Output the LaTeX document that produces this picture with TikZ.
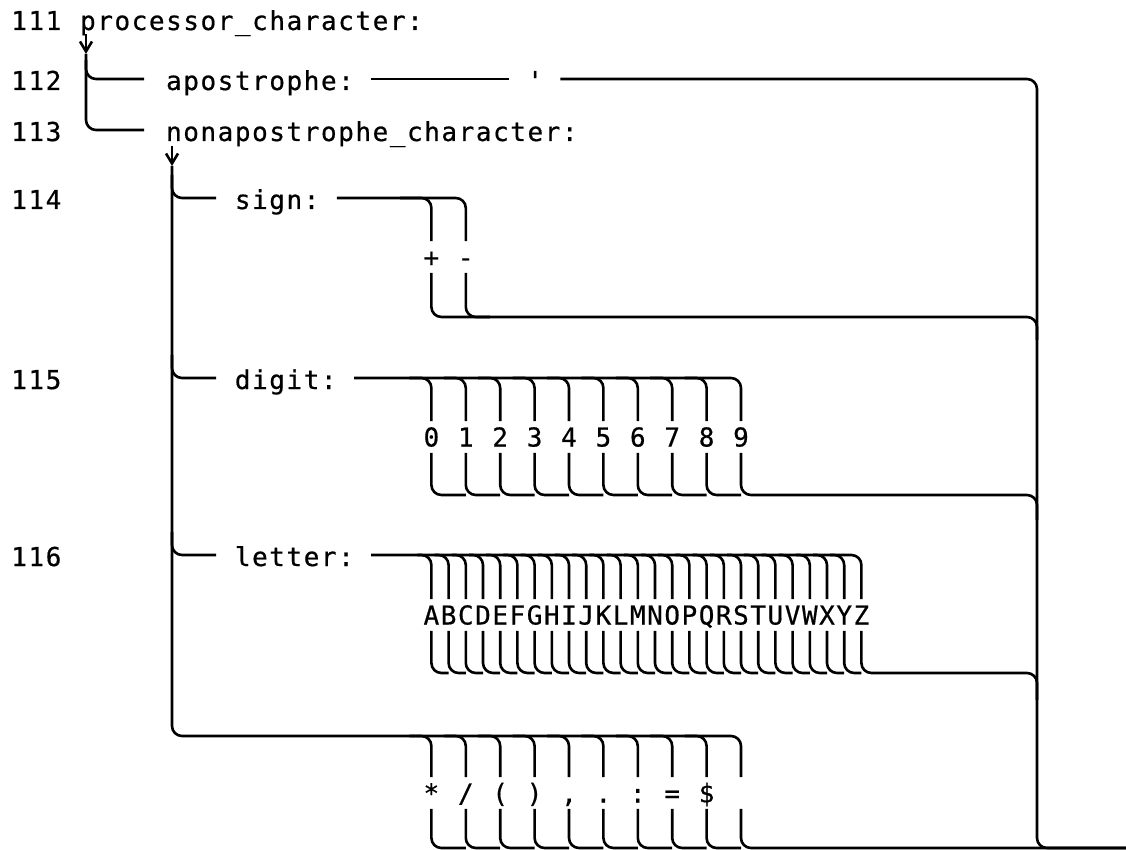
\documentclass[tikz,border=0pt]{standalone}
\usepackage{fontspec}
\usetikzlibrary{arrows.meta,calc}
\newfontfamily\plt[LetterSpace=6,FakeBold=0.6]{DejaVu Sans Mono}
\newfontfamily\pltlab[FakeBold=0.6]{DejaVu Sans Mono}
\begin{document}
\begin{tikzpicture}[x=1pt,y=-1pt,line width=2.6pt,
  rc/.style={rounded corners=10pt},
  txt/.style={font={\plt\fontsize{26}{30}\selectfont},anchor=base west,inner sep=0pt},
  lab/.style={font={\pltlab\fontsize{26}{30}\selectfont},inner sep=5pt,text height=19pt,text depth=0pt},
  arr/.style={-{Straight Barb[length=10pt,width=12pt]}}]
\useasboundingbox (0,0) rectangle (1126,850);

% line numbers
\node[txt] (n111) at (10,30) {111};
\node[txt] (n112) at (10,90) {112};
\node[txt] (n113) at (10,141) {113};
\node[txt] (n114) at (10,209) {114};
\node[txt] (n115) at (10,389) {115};
\node[txt] (n116) at (10,566) {116};

% production names
\node[txt] (proc) at (78.8,30) {processor\_character:};
\node[txt] (apos) at (164.8,90) {apostrophe:};
\node[txt] (quote) at (526,90) {\textquotesingle};
\node[txt] (nonap) at (164.8,141) {nonapostrophe\_character:};
\node[txt] (sign) at (233.6,209) {sign:};
\node[txt] (digit) at (233.6,389) {digit:};
\node[txt] (letter) at (233.6,566) {letter:};

% trunk 1
\coordinate (a1s) at (86,34);
\coordinate (a1e) at (86,54);
\draw[arr] (a1s) -- (a1e);
\draw[rc] (a1e) |- (144,130);
\draw[rc] (86,60) |- (144,79);

% apostrophe line and right collector
\draw (371.2,79) -- (508.8,79);
\coordinate (rbot) at (1037,848);
\coordinate (exit) at (1126,848);
\draw[rc] (560.4,79) -| (rbot) -- (exit);

% trunk 2
\coordinate (a2s) at (172,146);
\coordinate (a2e) at (172,166);
\draw[arr] (a2s) -- (a2e);
\node[lab] (s9) at (741.0,793) {};
\draw[rc] (a2e) |- (741.0,736) -- (s9.north);
\draw[rc] (172,175) |- (216,198);
\draw[rc] (172,355) |- (216,378);
\draw[rc] (172,532) |- (216,555);

% sign
\node[lab] (sp) at (431.4,257) {+};
\node[lab] (sm) at (465.8,257) {-};
\draw[rc] (336.8,198) -| (sm.north);
\draw[rc] (400,198) -| (sp.north);
\draw[rc] (sp.south) |- (490,317);
\draw[rc] (sm.south) |- (1037,317) -- (1037,340);

% digits
\foreach \d in {0,...,9}{
  \pgfmathsetmacro\xx{431.4+34.4*\d}
  \node[lab] (d\d) at (\xx,437) {\d};
}
\draw[rc] (354,378) -| (d9.north);
\foreach \d in {0,...,8}{
  \pgfmathsetmacro\xx{431.4+34.4*\d}
  \pgfmathsetmacro\xa{\xx-22}
  \pgfmathsetmacro\xb{\xx+34.4}
  \draw[rc] (\xa,378) -| (d\d.north);
  \draw[rc] (d\d.south) |- (\xb,495);
}
\draw[rc] (d9.south) |- (1037,495) -- (1037,520);

% letters
\foreach \c [count=\i from 0] in {A,B,C,D,E,F,G,H,I,J,K,L,M,N,O,P,Q,R,S,T,U,V,W,X,Y,Z}{
  \pgfmathsetmacro\xx{431.4+17.2*\i}
  \node[lab,inner xsep=0pt] (l\i) at (\xx,615) {\c};
}
\draw[rc] (371.2,555) -| (l25.north);
\foreach \i in {0,...,24}{
  \pgfmathsetmacro\xx{431.4+17.2*\i}
  \pgfmathsetmacro\xa{\xx-14}
  \pgfmathsetmacro\xb{\xx+17.2}
  \draw[rc] (\xa,555) -| (l\i.north);
  \draw[rc] (l\i.south) |- (\xb,673);
}
\draw[rc] (l25.south) |- (1037,673) -- (1037,700);

% special characters
\foreach \c [count=\i from 0] in {{*},{/},{(},{)},{,},{.},{:},{=},{\$}}{
  \pgfmathsetmacro\xx{431.4+34.4*\i}
  \node[lab] (s\i) at (\xx,793) {\c};
}
\foreach \i in {0,...,8}{
  \pgfmathsetmacro\xx{431.4+34.4*\i}
  \pgfmathsetmacro\xa{\xx-22}
  \pgfmathsetmacro\xb{\xx+34.4}
  \draw[rc] (\xa,736) -| (s\i.north);
  \draw[rc] (s\i.south) |- (\xb,848);
}
\draw[rc] (s9.south) |- (exit);
\end{tikzpicture}
\end{document}
